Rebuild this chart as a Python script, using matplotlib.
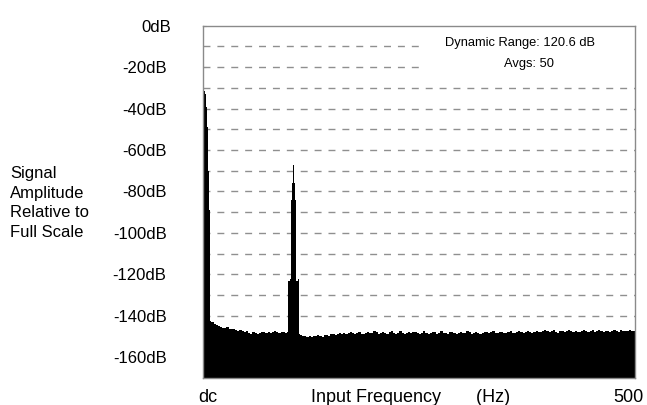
import numpy as np
import matplotlib.pyplot as plt
from matplotlib.transforms import ScaledTranslation

plt.rcParams['font.family'] = ['Liberation Sans', 'DejaVu Sans']

# dc spike, 1 Hz bins
dc_freq = np.arange(0, 10, 1.0)
dc_amp = [-31, -31, -31.5, -33, -39, -49, -70, -89, -141, -142.5]

# floor between dc and the spur, 2.5 Hz bins
low_freq = np.arange(10, 97.5, 2.5)
low_amp = [-143.0, -143.8, -144.5, -145.0, -145.2, -145.8, -146.0, -145.6, -146.4, -146.6,
           -146.2, -147.0, -147.3, -146.8, -147.5, -147.9, -147.4, -148.2, -148.6, -147.9,
           -148.3, -148.8, -148.1, -147.6, -148.0, -148.4, -147.8, -148.2, -147.9, -147.5,
           -147.9, -148.2, -147.8, -148.0, -148.3]

# spur near 104 Hz, 1 Hz bins
spur_freq = np.arange(98, 113, 1.0)
spur_amp = [-148.0, -123, -123, -122, -84, -76, -66, -67, -76, -84, -123, -123, -122, -148.8, -149.0]

# floor up to 500 Hz, 2.5 Hz bins
high_freq = np.arange(112.5, 502.5, 2.5)
high_amp = [-149.2, -149.5, -149.9, -150.1, -149.7, -150.0,
            -149.6, -149.9, -149.3, -149.8, -150.0, -149.4, -149.1, -149.6, -149.0, -148.7, -149.2, -148.8, -148.5, -149.0,
            -148.3, -148.9, -148.1, -147.6, -148.4, -148.8, -148.2, -147.9, -148.6, -149.0, -148.3, -147.8,
            -148.5, -148.1, -147.4, -148.0, -148.7, -148.2, -147.7, -148.4, -148.9, -148.0, -147.5, -148.3,
            -148.6, -148.1, -147.3, -148.2, -148.8, -148.4, -147.9, -148.5, -148.0, -147.6, -148.3, -148.7,
            -148.1, -147.5, -148.2, -148.9, -148.4, -147.8, -148.0, -148.6, -148.2, -147.4, -148.1, -148.5,
            -148.8, -148.0, -147.6, -148.3, -148.7, -148.1, -147.7, -148.4, -148.2, -147.5, -148.0, -148.6,
            -148.3, -147.8, -148.1, -148.7, -148.4, -147.6, -148.0, -148.5, -147.9, -147.3, -148.1, -148.4,
            -148.0, -147.6, -148.2, -148.5, -147.9, -147.5, -148.1, -148.3, -147.7, -147.4, -148.0, -148.2,
            -147.8, -147.3, -147.9, -148.2, -147.6, -147.1, -147.7, -148.0, -147.4, -146.9, -147.5, -147.9,
            -147.3, -147.0, -147.6, -148.1, -147.5, -147.2, -147.8, -147.4, -146.8, -147.3, -147.7, -147.2,
            -147.6, -148.0, -147.4, -146.9, -147.5, -147.8, -147.2, -147.0, -147.6, -147.3, -146.7, -147.2,
            -147.7, -147.1, -147.5, -147.9, -147.3, -146.9, -147.4, -147.6, -147.0, -147.3, -147.5, -147.1,
            -146.8, -147.2, -147.4, -146.6]

ytick_vals = np.arange(0, -161, -20)
ytick_labels = ['%ddB' % v for v in ytick_vals]
grid_vals = np.arange(-10, -161, -10)

freq = np.concatenate([dc_freq, low_freq, spur_freq, high_freq])
amp = np.concatenate([dc_amp, low_amp, spur_amp, high_amp])

fig = plt.figure(figsize=(6.47, 4.05), dpi=100)
ax = fig.add_axes([0.3133, 0.0667, 0.6682, 0.8698])

gc = '#8f8f8f'
for v in grid_vals:
    xmax = 0.512 if v > -25 else 1.0
    ax.axhline(v, xmin=0, xmax=xmax, color=gc, lw=1.0, ls=(0, (5, 5)), zorder=1)

ax.fill_between(freq, amp, -170, step='post', color='black', lw=0, zorder=2)

ax.set_xlim(0, 500)
ax.set_ylim(-170, 0)
ax.set_yticks(ytick_vals)
ax.set_yticklabels(ytick_labels, fontsize=12)
ax.set_yticks(grid_vals, minor=True)
ax.tick_params(axis='y', which='both', direction='in', length=2.5, color=gc, pad=26)
ax.set_xticks([0, 500])
ax.set_xticklabels(['dc', '500'], fontsize=13)
ax.tick_params(axis='x', length=0, pad=8)
ax.set_xlabel('Input Frequency       (Hz)', fontsize=13)
ax.xaxis.set_label_coords(0.48, -0.032)
ax.xaxis.label.set_va('top')
for s in ax.spines.values():
    s.set_color('#8a8a8a')
    s.set_linewidth(1.0)

xl = ax.get_xticklabels()
xl[0].set_transform(xl[0].get_transform() + ScaledTranslation(0.05, 0, fig.dpi_scale_trans))
xl[1].set_transform(xl[1].get_transform() + ScaledTranslation(-0.07, 0, fig.dpi_scale_trans))
yl = ax.get_yticklabels()
yl[0].set_transform(yl[0].get_transform() + ScaledTranslation(0.05, 0, fig.dpi_scale_trans))

ax.text(0.733, 0.950, 'Dynamic Range: 120.6 dB', transform=ax.transAxes, fontsize=9.3, ha='center', va='center')
ax.text(0.755, 0.891, 'Avgs: 50', transform=ax.transAxes, fontsize=9.3, ha='center', va='center')

fig.text(10 / 647, 1 - 203 / 405, 'Signal\nAmplitude\nRelative to\nFull Scale', fontsize=12,
         ha='left', va='center', linespacing=1.4)

plt.savefig('out.png', dpi=100)
